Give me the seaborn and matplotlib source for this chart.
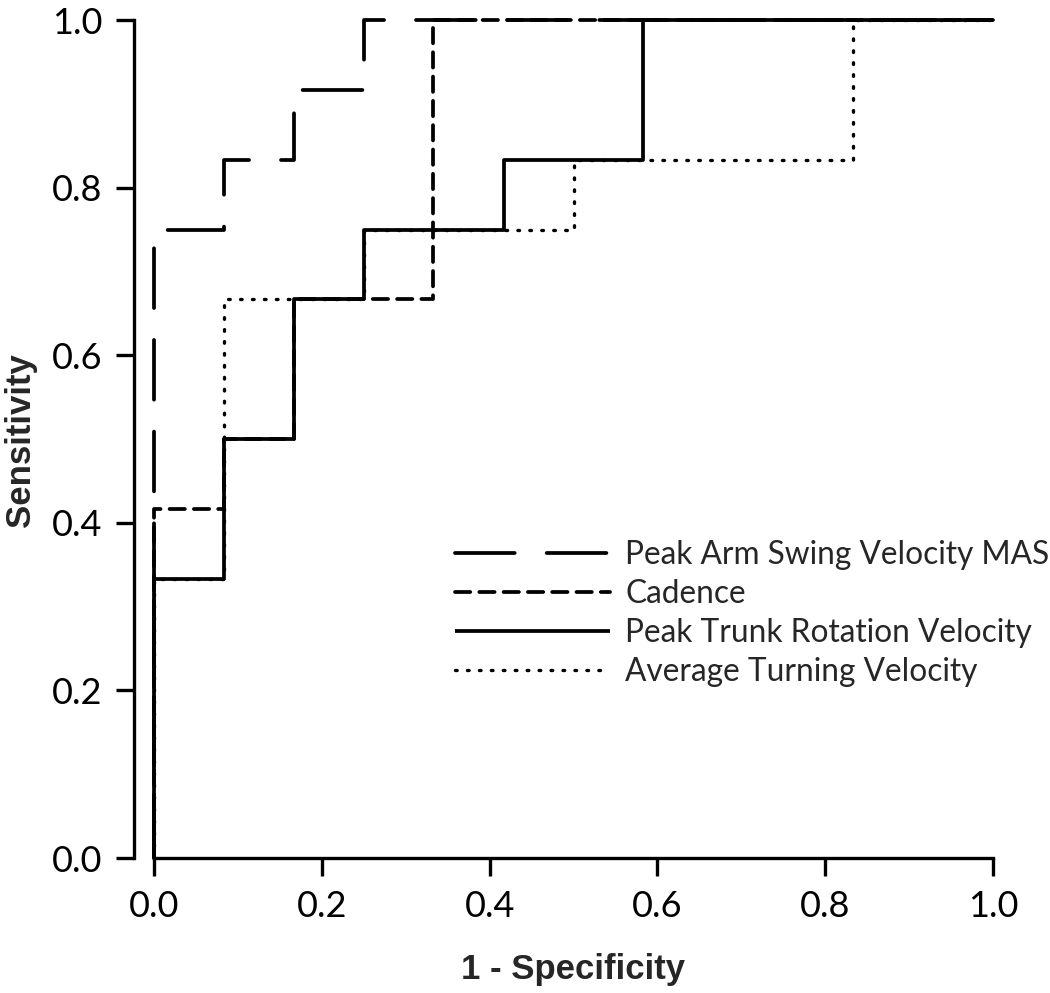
import matplotlib
matplotlib.use("Agg")
import matplotlib.pyplot as plt
import seaborn as sns
import pandas as pd

sns.set_style("white")
plt.rcParams["font.family"] = ["Lato", "DejaVu Sans"]
plt.rcParams["lines.scale_dashes"] = False

# ROC step curves (1 - specificity, sensitivity)
arm_x = [0, 0, 0.083, 0.083, 0.167, 0.167, 0.25, 0.25, 1.0]
arm_y = [0, 0.75, 0.75, 0.833, 0.833, 0.917, 0.917, 1.0, 1.0]

cad_x = [0, 0, 0.083, 0.083, 0.167, 0.167, 0.333, 0.333, 1.0]
cad_y = [0, 0.417, 0.417, 0.5, 0.5, 0.667, 0.667, 1.0, 1.0]

trunk_x = [0, 0, 0.083, 0.083, 0.167, 0.167, 0.25, 0.25, 0.417, 0.417, 0.583, 0.583, 1.0]
trunk_y = [0, 0.333, 0.333, 0.5, 0.5, 0.667, 0.667, 0.75, 0.75, 0.833, 0.833, 1.0, 1.0]

turn_x = [0, 0, 0.083, 0.083, 0.25, 0.25, 0.5, 0.5, 0.833, 0.833, 1.0]
turn_y = [0, 0.333, 0.333, 0.667, 0.667, 0.75, 0.75, 0.833, 0.833, 1.0, 1.0]

labels = ["Peak Arm Swing Velocity MAS", "Cadence",
          "Peak Trunk Rotation Velocity", "Average Turning Velocity"]
curves = [(arm_x, arm_y), (cad_x, cad_y), (trunk_x, trunk_y), (turn_x, turn_y)]
styles = [(0, (43, 23)), (0, (11, 6.5)), "-", (0, (1.2, 7.4))]
widths = [2.7, 2.7, 2.7, 2.4]

tick_vals = [0, 0.2, 0.4, 0.6, 0.8, 1.0]
tick_text = ["0.0", "0.2", "0.4", "0.6", "0.8", "1.0"]

fig = plt.figure(figsize=(10.5, 9.93), dpi=100)
ax = fig.add_axes([154 / 1050, 1 - 858 / 993, 839 / 1050, 838 / 993])

for (x, y), lab, ls, lw in zip(curves, labels, styles, widths):
    df = pd.DataFrame({"x": x, "y": y})
    sns.lineplot(data=df, x="x", y="y", sort=False, estimator=None, ax=ax,
                 color="black", linestyle=ls, linewidth=lw, label=lab,
                 clip_on=False, dash_capstyle="round", solid_capstyle="butt")

ax.set_xlim(0, 1)
ax.set_ylim(0, 1)
ax.set_xticks(tick_vals)
ax.set_yticks(tick_vals)
ax.set_xticklabels(tick_text)
ax.set_yticklabels(tick_text)

for s in ["top", "right"]:
    ax.spines[s].set_visible(False)
ax.spines["left"].set_position(("outward", 14.4))
for s in ["left", "bottom"]:
    ax.spines[s].set_linewidth(2.4)
    ax.spines[s].set_color("black")

ax.tick_params(axis="both", direction="out", length=13, width=2.4,
               labelsize=26, colors="black", left=True, bottom=True)
ax.tick_params(axis="x", pad=10)
ax.tick_params(axis="y", pad=10)

ax.set_xlabel("1 - Specificity", fontsize=25, fontweight="bold",
              family=["Liberation Sans", "DejaVu Sans"], va="center")
ax.set_ylabel("Sensitivity", fontsize=25, fontweight="bold",
              family=["Liberation Sans", "DejaVu Sans"], va="center")
ax.xaxis.set_label_coords(0.5, (858 - 970) / 838)
ax.yaxis.set_label_coords((20 - 154) / 839, 0.499)

leg = ax.legend(loc="upper left", bbox_to_anchor=(0.344, 0.394), frameon=False,
                handlelength=4.9, handletextpad=0.47, labelspacing=0.28,
                borderaxespad=0, prop={"family": ["Lato", "DejaVu Sans"], "size": 22.8})

fig.savefig("out.png", dpi=100)
